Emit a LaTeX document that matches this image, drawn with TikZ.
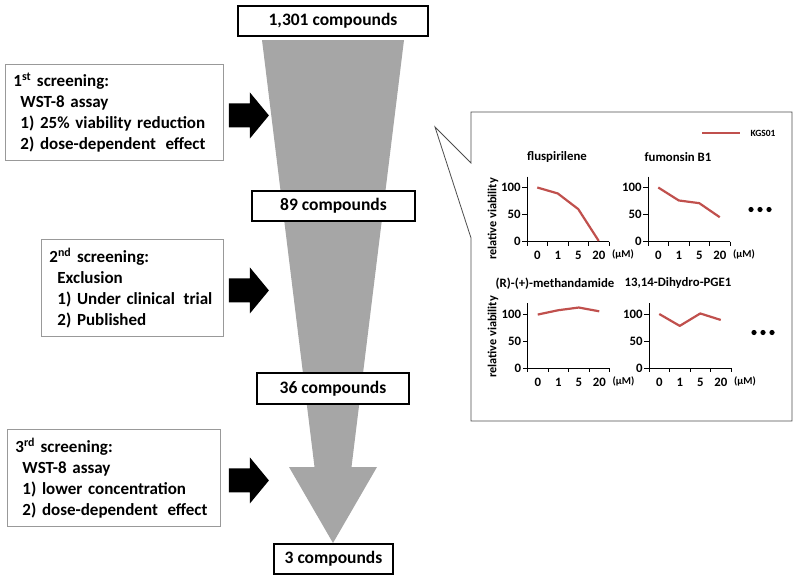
\documentclass[tikz,border=0pt]{standalone}
\usepackage{fontspec}
\setmainfont{Carlito}
\usetikzlibrary{calc}

\definecolor{kgsred}{RGB}{192,80,77}
\definecolor{funnelgray}{RGB}{166,166,166}

\tikzset{
  countbox/.style={draw, line width=1.4pt, fill=white, inner sep=0pt,
    font=\fontsize{17.5}{20}\selectfont\bfseries},
  screenbox/.style={draw=black!40, line width=0.9pt, fill=white, align=left,
    anchor=north west, inner xsep=8pt, inner ysep=0pt,
    font=\fontsize{17}{21}\selectfont\bfseries},
  blockarrow/.pic={
    \fill (0,-12) -- (21,-12) -- (21,-23) -- (40,0) -- (21,23) -- (21,12) -- (0,12) -- cycle;
  },
  callout/.style={draw=black!70, line width=0.8pt},
  axisline/.style={line width=1pt},
  kgs/.style={draw=kgsred, line width=2.2pt},
  charttext/.style={font=\fontsize{12.8}{15}\selectfont\bfseries, inner sep=1pt},
  unittext/.style={font=\fontsize{10.5}{12}\selectfont\bfseries, inner sep=1pt},
  ytitle/.style={charttext, rotate=90, font=\fontsize{12.3}{14}\selectfont\bfseries}
}

\begin{document}
\begin{tikzpicture}[x=1pt, y=-1pt]
    \useasboundingbox (0,0) rectangle (800,584);

    % Funnel
    \fill[funnelgray] (262,40) -- (404,40) -- (351.5,467) -- (377,467) -- (333,543)
        -- (289,467) -- (314.5,467) -- cycle;

    % Compound counts
    \node[countbox, minimum width=190pt, minimum height=30pt] (n1301) at (333,21) {1,301 compounds};
    \node[countbox, minimum width=163pt, minimum height=30pt] (n89) at (333.5,206) {89 compounds};
    \node[countbox, minimum width=152pt, minimum height=31pt] (n36) at (333,388.5) {36 compounds};
    \node[countbox, minimum width=119pt, minimum height=30pt] (n3) at (333.5,559) {3 compounds};

    % Screening steps
    \node[screenbox, text width=202pt, minimum height=96pt] (scr1) at (5,64)
        {1\textsuperscript{st} screening:\\
         \hspace*{7pt}WST-8 assay\\
         \hspace*{7pt}1) 25\% viability reduction\\
         \hspace*{7pt}2) dose-dependent\hspace{4pt} effect};
    \node[screenbox, text width=166pt, minimum height=97pt] (scr2) at (41,239)
        {2\textsuperscript{nd} screening:\\
         \hspace*{8pt}Exclusion\\
         \hspace*{8pt}1) Under clinical\hspace{3pt} trial\\
         \hspace*{8pt}2) Published};
    \node[screenbox, text width=197pt, minimum height=97pt] (scr3) at (7,429)
        {3\textsuperscript{rd} screening:\\
         \hspace*{7pt}WST-8 assay\\
         \hspace*{7pt}1) lower concentration\\
         \hspace*{7pt}2) dose-dependent\hspace{4pt} effect};

    % Block arrows
    \pic at ($(scr1.east)+(5,3)$) {blockarrow};
    \pic at ($(scr2.east)+(5,2.5)$) {blockarrow};
    \pic at ($(scr3.east)+(8,2.5)$) {blockarrow};

    % Callout with results
    \draw[callout] (471,112) -- (792,112) -- (792,421) -- (471,421) -- (471,238)
        -- (435,127) -- (471,163) -- cycle;

    % Legend
    \coordinate (legA) at (702,133);
    \coordinate (legB) at (740,133);
    \draw[kgs] (legA) -- (legB);
    \node[anchor=west, font=\fontsize{9.5}{11}\selectfont\bfseries] (legend) at (747,133) {KGS01};

    % Charts
    \foreach \ox/\oy/\tx/\ttl/\a/\b/\c/\d [count=\i] in
        {527/241.5/30/fluspirilene/100/89/60/1,
         648/241.5/30/fumonsin B1/100/76/71/45,
         527.5/368/27.5/(R)-(+)-methandamide/99/107/112/105,
         649/368/29/{13,14-Dihydro-PGE1}/100/78/101/89} {
      \begin{scope}[shift={(\ox,\oy)}]
        \node[charttext] (title\i) at (\tx,-84.5) {\ttl};
        \draw[axisline] (0,-65) -- (0,0) -- (82,0);
        \foreach \v in {0,50,100}
          \draw[axisline] (0,{-0.54*\v}) -- (-5,{-0.54*\v}) node[charttext, left] {\v};
        \foreach \k in {0,...,4}
          \draw[axisline] (20.5*\k,0) -- (20.5*\k,4);
        \foreach \l [count=\j from 0] in {0,1,5,20}
          \node[charttext] at (10.25+20.5*\j,14) {\l};
        \node[unittext, anchor=west] (unit\i) at (84,13) {(μM)};
        \draw[kgs, line join=round] (10.25,{-0.54*\a}) -- (30.75,{-0.54*\b})
            -- (51.25,{-0.54*\c}) -- (71.75,{-0.54*\d});
      \end{scope}
    }

    % Axis titles
    \node[ytitle] (ylab1) at (493,219) {relative viability};
    \node[ytitle] (ylab2) at (493,337) {relative viability};

    % More results
    \foreach \x in {751,760,769}
      \fill (\x,209.5) circle (2.6pt);
    \foreach \x in {754,763,772}
      \fill (\x,332.5) circle (2.6pt);
\end{tikzpicture}
\end{document}
